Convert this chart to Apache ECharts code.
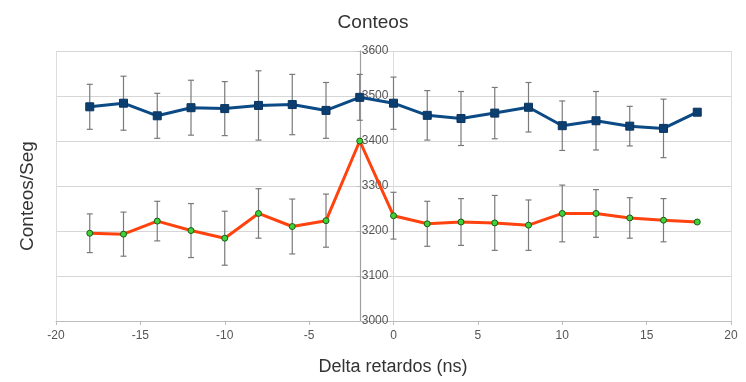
<!DOCTYPE html>
<html>
<head>
<meta charset="utf-8">
<script src="https://cdn.jsdelivr.net/npm/echarts@6/dist/echarts.min.js"></script>
<style>
  html, body { margin: 0; padding: 0; background: #fff; }
  #conteos { width: 746px; height: 382px; }
</style>
</head>
<body>
<div id="conteos"></div>
<script>
  // retardos (ns)
  var retardos = [-18, -16, -14, -12, -10, -8, -6, -4, -2, 0, 2, 4, 6, 8, 10, 12, 14, 16, 18]
  // serie azul
  var azul = [3476, 3484, 3456, 3474, 3472, 3479, 3481, 3468, 3497, 3484, 3457, 3450, 3462, 3475, 3434, 3445, 3433, 3428, 3464]
  var azulErr = [50, 60, 50, 61, 60, 77, 67, 62, 51, 58, 55, 60, 57, 55, 55, 65, 44, 65, null]
  // serie roja
  var rojo = [3195, 3193, 3222, 3201, 3184, 3239, 3210, 3223, 3400, 3234, 3216, 3220, 3218, 3213, 3239, 3239, 3229, 3224, 3220]
  var rojoErr = [43, 49, 44, 60, 60, 55, 61, 59, null, 52, 50, 52, 61, 56, 63, 53, 45, 48, null]
  var yTicks = [3000, 3100, 3200, 3300, 3400, 3500, 3600]
  var xTicks = [-20, -15, -10, -5, 0, 5, 10, 15, 20]
  var cruceY = -2

  function pares(ys) {
    return retardos.map((x, i) => [x, ys[i]])
  }
  function barras(ys, errs) {
    var out = []
    retardos.forEach((x, i) => {
      if (errs[i] != null) out.push([x, ys[i] - errs[i], ys[i] + errs[i]])
    })
    return out
  }
  function dibujaBarra(params, api) {
    var top = api.coord([api.value(0), api.value(2)])
    var bot = api.coord([api.value(0), api.value(1)])
    var st = { stroke: '#7a7a7a', lineWidth: 1.2 }
    return {
      type: 'group',
      children: [
        { type: 'line', shape: { x1: top[0], y1: top[1], x2: bot[0], y2: bot[1] }, style: st },
        { type: 'line', shape: { x1: top[0] - 3, y1: top[1], x2: top[0] + 3, y2: top[1] }, style: st },
        { type: 'line', shape: { x1: bot[0] - 3, y1: bot[1], x2: bot[0] + 3, y2: bot[1] }, style: st }
      ]
    }
  }

  var gridLeft = 56
  var chart = echarts.init(document.getElementById('conteos'))
  var option = {
    animation: false,
    textStyle: { fontFamily: 'Liberation Sans' },
    title: {
      text: 'Conteos',
      left: 'center',
      top: 8,
      textStyle: { fontSize: 19, fontWeight: 'normal', color: '#333', fontFamily: 'Liberation Sans' }
    },
    graphic: [{
      type: 'text',
      x: 28,
      y: 196,
      rotation: Math.PI / 2,
      style: { text: 'Conteos/Seg', fontSize: 19, fill: '#333', align: 'center', verticalAlign: 'middle', fontFamily: 'Liberation Sans' }
    }, {
      type: 'text',
      x: 393,
      y: 367,
      style: { text: 'Delta retardos (ns)', fontSize: 18, fill: '#333', align: 'center', verticalAlign: 'middle', fontFamily: 'Liberation Sans' }
    }],
    grid: { left: gridLeft, right: 15, top: 51, bottom: 61 },
    xAxis: [{
      type: 'value',
      min: xTicks[0],
      max: xTicks[xTicks.length - 1],
      interval: 5,
      axisLine: { onZero: false, lineStyle: { color: '#bdbdbd' } },
      axisTick: { show: true, length: 4, lineStyle: { color: '#bdbdbd' } },
      axisLabel: { color: '#555', fontSize: 12, margin: 9 },
      splitLine: { show: false }
    }, {
      // rejilla vertical mayor (-20, 0, 20)
      type: 'value',
      min: -20,
      max: 20,
      interval: 20,
      position: 'bottom',
      axisLine: { show: false },
      axisTick: { show: false },
      axisLabel: { show: false },
      splitLine: { show: true, lineStyle: { color: '#dcdcdc' } }
    }],
    yAxis: {
      type: 'value',
      min: yTicks[0],
      max: yTicks[yTicks.length - 1],
      interval: 100,
      position: 'left',
      offset: 0,
      axisLine: { show: true, onZero: false, lineStyle: { color: '#a0a0a0', width: 1.2 } },
      axisTick: { show: true, length: 3, lineStyle: { color: '#bdbdbd' } },
      axisLabel: { inside: true, margin: 2, color: '#555', fontSize: 12, formatter: v => String(v) },
      splitLine: { lineStyle: { color: '#d6d6d6' } }
    },
    series: [{
      type: 'custom',
      renderItem: dibujaBarra,
      data: barras(azul, azulErr),
      encode: { x: 0, y: [1, 2] },
      z: 1,
      silent: true
    }, {
      type: 'custom',
      renderItem: dibujaBarra,
      data: barras(rojo, rojoErr),
      encode: { x: 0, y: [1, 2] },
      z: 1,
      silent: true
    }, {
      name: 'azul',
      type: 'line',
      data: pares(azul),
      symbol: 'rect',
      symbolSize: 8,
      showAllSymbol: true,
      lineStyle: { color: '#0c4a86', width: 3 },
      itemStyle: { color: '#0c3f70', borderColor: '#0a3560', borderWidth: 1 },
      z: 3
    }, {
      name: 'rojo',
      type: 'line',
      data: pares(rojo),
      symbol: 'circle',
      symbolSize: 6,
      showAllSymbol: true,
      lineStyle: { color: '#ff420e', width: 3 },
      itemStyle: { color: '#3fd23a', borderColor: '#1d5a14', borderWidth: 1 },
      z: 3
    }]
  }
  chart.setOption(option)
  // eje Y cruzando en x = -2
  var px = chart.convertToPixel({ xAxisIndex: 0 }, cruceY)
  chart.setOption({ yAxis: { offset: -(px - gridLeft) } })
  window.addEventListener('resize', () => {
    chart.resize()
  })
</script>
</body>
</html>
